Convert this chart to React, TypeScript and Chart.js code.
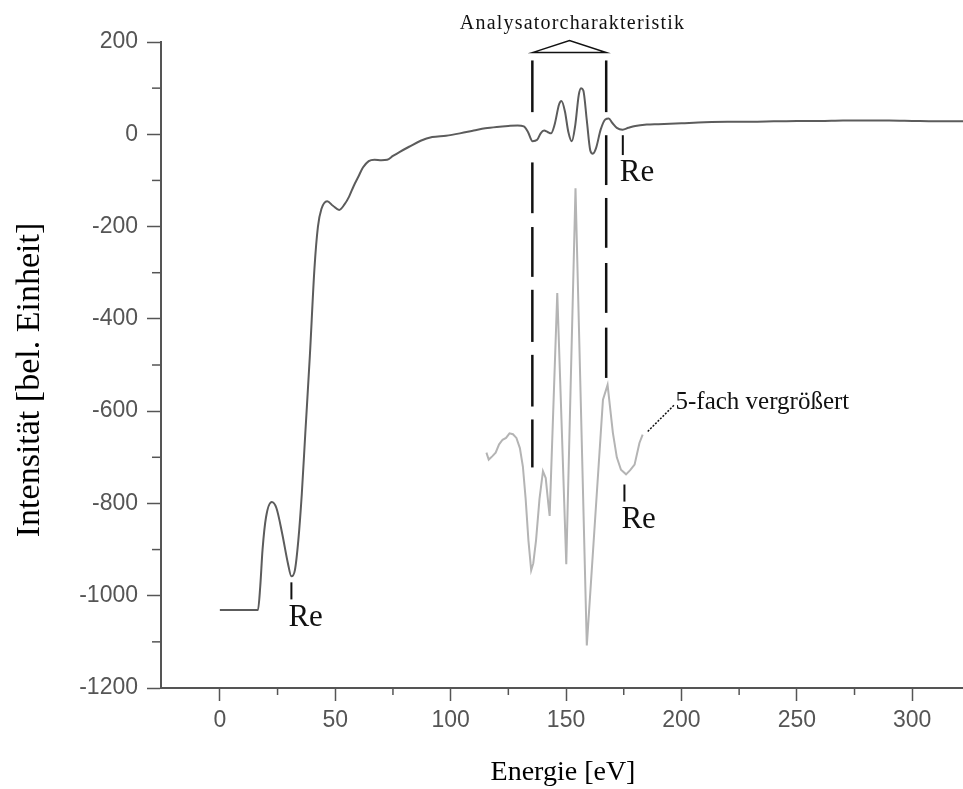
import React, { useEffect, useRef } from 'react';
import { Chart, registerables } from 'chart.js';

Chart.register(...registerables);

// Measured spectrum (energy in eV, intensity in arbitrary units)
const energyMain = [
  0, 16.5, 17.5, 18.5, 20, 22.5, 24.5, 27, 29.5, 31, 32.5, 34, 35.5, 37, 39, 41, 42.5, 44, 46.5,
  49, 51.7, 54, 56, 58, 60, 62, 64.5, 67, 70, 72.5, 75, 78, 82, 87, 92, 98, 104, 110, 115, 120,
  125, 129, 131.7, 133.5, 135.5, 137.5, 139, 140.5, 142, 143.5, 145, 147, 148, 149.5, 151, 152.5,
  154, 155.5, 156.5, 157.5, 159, 160.5, 161.6, 163, 165, 167, 168.5, 170, 172, 174.5, 177, 180,
  185, 190, 200, 210, 220, 230, 240, 250, 260, 270, 280, 290, 300, 310, 322,
];
const intensityMain = [
  -1031, -1031, -980, -900, -830, -797, -810, -865, -930, -958, -945, -880, -780, -650, -480, -290,
  -200, -162, -145, -155, -164, -152, -135, -112, -92, -72, -58, -55, -56, -55, -47, -38, -27, -14,
  -6, -3, 2, 8, 13, 16, 18, 19, 17, 5, -15, -12, 2, 8, 5, 2, 20, 65, 72, 50, 5, -15, 20, 85, 100, 95,
  30, -35, -42, -30, 10, 32, 34, 25, 14, 10, 14, 18, 21, 22, 24, 26, 27, 27, 28, 29, 29, 30, 30, 30,
  29, 28, 28,
];

// Five-fold magnified detail of the analyser region
const energyZoom = [
  115.5, 116.5, 118, 119.5, 121, 122.5, 124, 125.5, 127, 128.5, 130, 131.3, 132.5, 133.7, 134.9,
  135.8, 137, 138.5, 140, 141.2, 142.3, 142.9, 146.2, 150.1, 154.1, 159, 166, 168, 170.3, 172,
  173.8, 176, 177.8, 179.7, 181.8, 183.2,
];
const intensityZoom = [
  -690, -705, -698, -690, -672, -662, -658, -648, -650, -658, -680, -720, -790, -880, -945, -930,
  -880, -790, -730, -745, -800, -827, -344, -932, -117, -1108, -575, -543, -647, -700, -727, -737,
  -728, -716, -669, -651,
];

// Axis tick positions
const xMajorTicks = [0, 50, 100, 150, 200, 250, 300];
const xMinorTicks = [25, 75, 125, 175, 225, 275];
const yMajorTicks = [200, 0, -200, -400, -600, -800, -1000, -1200];
const yMinorTicks = [100, -100, -300, -500, -700, -900, -1100];

// Analyser window boundaries (eV) and the dash pieces of each boundary line (intensity units)
const windowEdges = [135.4, 167.4];
const leftEdgeDashes = [
  [160, 48], [-61, -171], [-201, -309], [-337, -450], [-478, -590], [-618, -722],
];
const rightEdgeDashes = [
  [160, 48], [-2, -110], [-138, -246], [-279, -387], [-419, -528],
];
const bracketBase = 177;
const bracketApex = { e: 151.5, v: 203 };

// "Re" markers: energy, marker top, marker bottom
const reMarkers = [
  { e: 31.0, top: -971, bottom: -1008 },
  { e: 174.6, top: -2, bottom: -45 },
  { e: 175.3, top: -759, bottom: -796 },
];

const zoomNote = { from: { e: 185.4, v: -644 }, to: { e: 197, v: -586 }, text: '5-fach vergrößert' };
const bracketTitle = 'Analysatorcharakteristik';
const xTitle = 'Energie [eV]';
const yTitle = 'Intensität [bel. Einheit]';

const AXIS_GREY = '#555555';
const SERIF = '"Liberation Serif", "Times New Roman", serif';
const SANS = '"Liberation Sans", Arial, sans-serif';

const overlay = {
  id: 'overlay',
  afterDraw(chart: any) {
    const { ctx, scales, chartArea } = chart;
    const x = scales.x;
    const y = scales.y;
    const px = (e: number) => x.getPixelForValue(e);
    const py = (v: number) => y.getPixelForValue(v);
    const seg = (x1: number, y1: number, x2: number, y2: number) => {
      ctx.beginPath();
      ctx.moveTo(x1, y1);
      ctx.lineTo(x2, y2);
      ctx.stroke();
    };

    ctx.save();

    // minor ticks
    ctx.strokeStyle = AXIS_GREY;
    ctx.lineWidth = 1.5;
    for (const e of xMinorTicks) {
      const X = px(e);
      seg(X, chartArea.bottom, X, chartArea.bottom + 7);
    }
    for (const v of yMinorTicks) {
      const Y = py(v);
      seg(chartArea.left - 9, Y, chartArea.left, Y);
    }

    // analyser window boundaries
    ctx.strokeStyle = '#111';
    ctx.lineWidth = 2.5;
    const edgeSets = [leftEdgeDashes, rightEdgeDashes];
    windowEdges.forEach((e, i) => {
      const X = px(e);
      for (const [a, b] of edgeSets[i]) seg(X, py(a), X, py(b));
    });

    // bracket above the window
    ctx.lineWidth = 1.5;
    ctx.beginPath();
    ctx.moveTo(px(windowEdges[0]), py(bracketBase));
    ctx.lineTo(px(bracketApex.e), py(bracketApex.v));
    ctx.lineTo(px(windowEdges[1]), py(bracketBase));
    ctx.closePath();
    ctx.stroke();

    ctx.fillStyle = '#111';
    ctx.font = `20px ${SERIF}`;
    (ctx as any).letterSpacing = '1.2px';
    ctx.textAlign = 'center';
    ctx.textBaseline = 'alphabetic';
    ctx.fillText(bracketTitle, px(bracketApex.e) + 3, 29);
    (ctx as any).letterSpacing = '0px';

    // Re markers
    ctx.lineWidth = 2;
    ctx.font = `31px ${SERIF}`;
    ctx.textAlign = 'left';
    ctx.textBaseline = 'middle';
    for (const m of reMarkers) {
      const X = px(m.e);
      seg(X, py(m.top), X, py(m.bottom));
      ctx.fillText('Re', X - 3, py(m.bottom) + 18);
    }

    // magnification note with dotted leader
    ctx.lineWidth = 1.5;
    ctx.setLineDash([2, 1.5]);
    seg(px(zoomNote.from.e), py(zoomNote.from.v), px(zoomNote.to.e), py(zoomNote.to.v));
    ctx.setLineDash([]);
    ctx.font = `25px ${SERIF}`;
    ctx.textAlign = 'left';
    ctx.textBaseline = 'middle';
    ctx.fillText(zoomNote.text, px(zoomNote.to.e) + 1, py(zoomNote.to.v) - 2);

    // axis titles
    ctx.fillStyle = '#000';
    ctx.font = `28px ${SERIF}`;
    ctx.textAlign = 'center';
    ctx.textBaseline = 'middle';
    ctx.fillText(xTitle, (chartArea.left + chartArea.right) / 2 + 1, 773);

    ctx.translate(30, 380);
    ctx.rotate(-Math.PI / 2);
    ctx.font = `34px ${SERIF}`;
    ctx.fillText(yTitle, 0, 0);

    ctx.restore();
  },
};

export default function App() {
  const canvasRef = useRef<HTMLCanvasElement | null>(null);

  useEffect(() => {
    const canvas = canvasRef.current;
    if (!canvas) return;

    const chart = new Chart(canvas, {
      type: 'line',
      data: {
        datasets: [
          {
            data: energyMain.map((e, i) => ({ x: e, y: intensityMain[i] })),
            borderColor: '#5c5c5c',
            borderWidth: 2,
            pointRadius: 0,
            cubicInterpolationMode: 'monotone',
            fill: false,
          },
          {
            data: energyZoom.map((e, i) => ({ x: e, y: intensityZoom[i] })),
            borderColor: '#b4b4b4',
            borderWidth: 2,
            pointRadius: 0,
            tension: 0,
            fill: false,
          },
        ],
      },
      options: {
        animation: false,
        responsive: false,
        devicePixelRatio: 1,
        layout: { padding: { top: 42, right: 0, bottom: 0, left: 0 } },
        plugins: {
          legend: { display: false },
          tooltip: { enabled: false },
        },
        scales: {
          x: {
            type: 'linear',
            min: -25.5,
            max: 322,
            afterBuildTicks: (s: any) => {
              s.ticks = xMajorTicks.map((v) => ({ value: v }));
            },
            afterFit: (s: any) => {
              s.height = 101;
            },
            border: { display: true, color: AXIS_GREY, width: 2 },
            grid: {
              drawOnChartArea: false,
              drawTicks: true,
              tickLength: 13,
              tickColor: AXIS_GREY,
              tickWidth: 1.5,
            },
            ticks: {
              autoSkip: false,
              maxRotation: 0,
              padding: 6,
              color: AXIS_GREY,
              font: { family: SANS, size: 23 },
              callback: (v: any) => String(v),
            },
          },
          y: {
            type: 'linear',
            min: -1200,
            max: 200,
            afterBuildTicks: (s: any) => {
              s.ticks = yMajorTicks.map((v) => ({ value: v }));
            },
            afterFit: (s: any) => {
              s.width = 161;
            },
            border: { display: true, color: AXIS_GREY, width: 2 },
            grid: {
              drawOnChartArea: false,
              drawTicks: true,
              tickLength: 14,
              tickColor: AXIS_GREY,
              tickWidth: 1.5,
            },
            ticks: {
              autoSkip: false,
              padding: 9,
              color: AXIS_GREY,
              font: { family: SANS, size: 23 },
              callback: (v: any) => String(v),
            },
          },
        },
      },
      plugins: [overlay],
    } as any);

    return () => chart.destroy();
  }, []);

  return (
    <div style={{ position: 'fixed', left: 0, top: 0, width: 963, height: 789, background: '#fff' }}>
      <canvas ref={canvasRef} width={963} height={789} />
    </div>
  );
}
